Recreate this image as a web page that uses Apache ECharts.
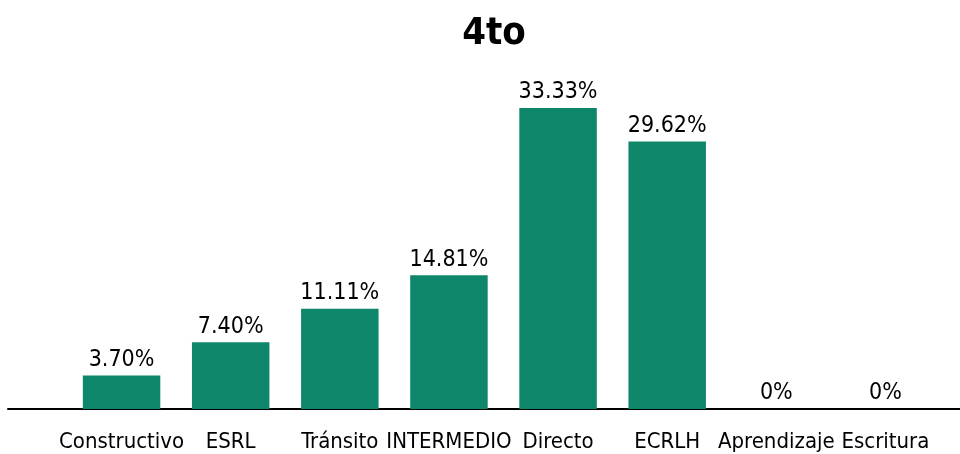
<!DOCTYPE html>
<html>
<head>
<meta charset="utf-8">
<script src="https://cdn.jsdelivr.net/npm/echarts@6/dist/echarts.min.js"></script>
<style>
  html, body { margin: 0; padding: 0; background: #fff; }
  #chart { width: 960px; height: 454px; }
</style>
</head>
<body>
<div id="chart"></div>
<script>
// categorias y porcentajes
const categories = ['Constructivo', 'ESRL', 'Tránsito', 'INTERMEDIO', 'Directo', 'ECRLH', 'Aprendizaje', 'Escritura']
const values = [3.70, 7.40, 11.11, 14.81, 33.33, 29.62, 0, 0]

const FONT = '"Liberation Sans Narrow", "DejaVu Sans Condensed", sans-serif'

const chart = echarts.init(document.getElementById('chart'))
const option = {
  animation: false,
  title: {
    text: '4to',
    left: 489,
    textAlign: 'center',
    top: 10,
    textStyle: { fontFamily: FONT, fontSize: 38, fontWeight: 'bold', color: '#000' }
  },
  grid: [
    { left: 67, right: 20, top: 108, bottom: 45 },
    // solo para la linea base que va de lado a lado
    { left: 8, right: 0, top: 108, bottom: 45 }
  ],
  xAxis: [
    {
      type: 'category',
      gridIndex: 0,
      data: categories,
      axisLine: { show: false },
      axisTick: { show: false },
      axisLabel: { fontFamily: FONT, fontSize: 22, color: '#000', margin: 22, interval: 0 }
    },
    {
      type: 'value',
      gridIndex: 1,
      min: 0,
      max: 1,
      axisLine: { show: true, onZero: false, lineStyle: { color: '#000', width: 2 } },
      axisTick: { show: false },
      axisLabel: { show: false },
      splitLine: { show: false }
    }
  ],
  yAxis: [
    {
      type: 'value',
      gridIndex: 0,
      min: 0,
      max: function (v) { return v.max },
      show: false,
      splitLine: { show: false }
    },
    {
      type: 'value',
      gridIndex: 1,
      show: false
    }
  ],
  series: [
    {
      type: 'bar',
      xAxisIndex: 0,
      yAxisIndex: 0,
      data: values,
      barCategoryGap: '29%',
      itemStyle: { color: '#0e866a' },
      label: {
        show: true,
        position: 'top',
        distance: 4,
        fontFamily: FONT,
        fontSize: 23,
        color: '#000',
        formatter: function (p) {
          return p.value === 0 ? '0%' : p.value.toFixed(2) + '%'
        }
      }
    }
  ]
}
chart.setOption(option)
</script>
</body>
</html>
